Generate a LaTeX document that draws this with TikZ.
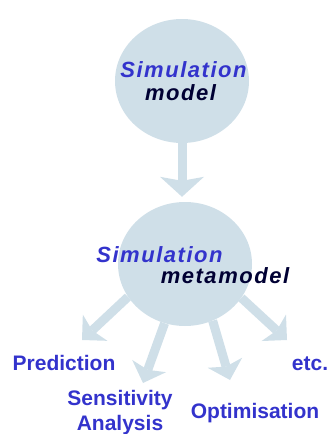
\documentclass[tikz,border=0pt]{standalone}
\usepackage{xcolor}
\usepackage{fontspec}
\setmainfont{Liberation Sans}
\newfontfamily\simfont[LetterSpace=7]{Liberation Sans}
\usetikzlibrary{arrows.meta,shapes.geometric}

\definecolor{bubblefill}{RGB}{207,223,232}
\definecolor{simblue}{RGB}{51,51,204}
\definecolor{darknavy}{RGB}{0,0,51}

\tikzset{
  bubble/.style={ellipse,fill=bubblefill,minimum width=134pt,minimum height=124pt,inner sep=0pt},
  flow/.style={draw=bubblefill,line width=9pt,
    -{Stealth[length=18pt,width=36pt,inset=4pt,line width=0pt]}},
  mainflow/.style={draw=bubblefill,line width=9pt,
    -{Stealth[length=20pt,width=44pt,inset=4pt,line width=0pt]}},
  title/.style={font=\fontsize{22}{26}\simfont\bfseries\itshape,anchor=base,inner sep=0pt},
  outcome/.style={font=\fontsize{21}{25}\selectfont\bfseries,text=simblue,
    inner sep=0pt,align=center,anchor=base}
}

\begin{document}
\begin{tikzpicture}[x=1pt,y=-1pt]
    \useasboundingbox (0,0) rectangle (330,434);
    % the two models
    \node[bubble] (model) at (182,81) {};
    \node[bubble] (meta) at (185,264) {};
    \draw[mainflow,shorten >=5pt] (model.south) -- (model.south |- meta.north);
    \node[title,text=simblue] (simtop) at (183.5,77) {Simulation};
    \node[title,text=darknavy] (modeltxt) at (180.5,100) {model};
    \node[title,text=simblue] (simbot) at (159.5,262) {Simulation};
    \node[title,text=darknavy] (metatxt) at (225,283) {metamodel};
    % what the metamodel is used for
    \node[outcome] (pred) at (64,370) {Prediction};
    \node[outcome] (sens) at (120,430) {Sensitivity\\Analysis};
    \node[outcome] (opt) at (255,418) {Optimisation};
    \node[outcome] (etc) at (310,370) {etc.};
    \coordinate (predtip) at (82,340);
    \coordinate (senstip) at (143,383);
    \coordinate (opttip) at (230,380);
    \coordinate (etctip) at (287,340);
    \draw[flow] (meta.210) -- (predtip);
    \draw[flow] (meta.251) -- (senstip);
    \draw[flow] (meta.296) -- (opttip);
    \draw[flow] (meta.329) -- (etctip);
\end{tikzpicture}
\end{document}
